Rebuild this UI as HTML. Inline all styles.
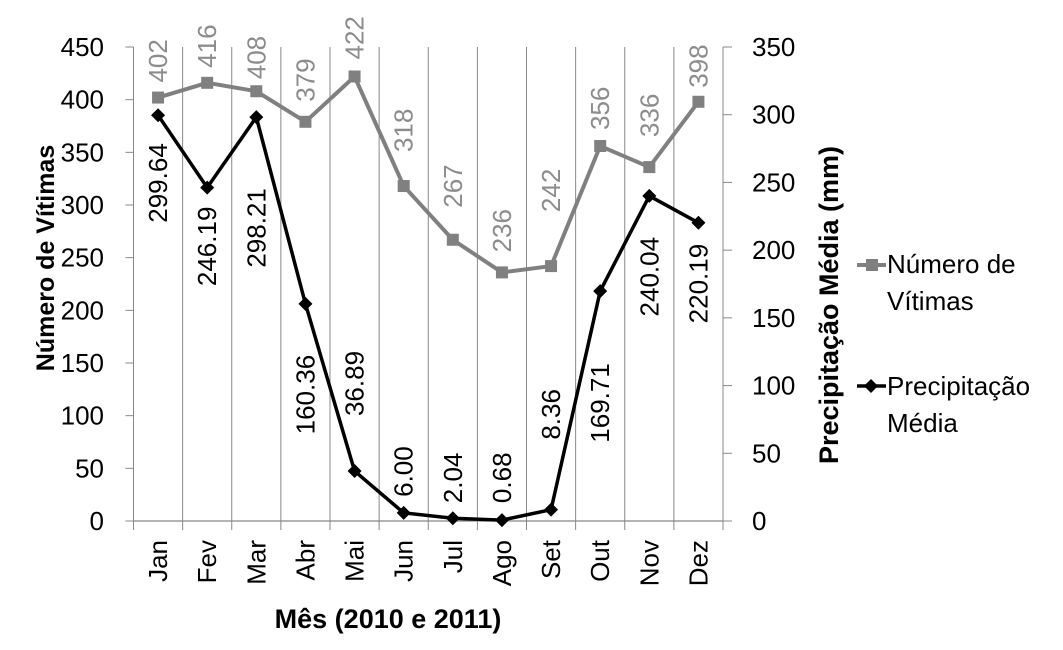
<!DOCTYPE html>
<html><head><meta charset="utf-8"><style>
html,body{margin:0;padding:0;background:#fff;}
svg{display:block;font-family:"Liberation Sans",sans-serif;}
</style></head><body>
<svg id="chart" width="1063" height="650" viewBox="0 0 1063 650"></svg>
<script>
const months=["Jan","Fev","Mar","Abr","Mai","Jun","Jul","Ago","Set","Out","Nov","Dez"];
const victims=[402,416,408,379,422,318,267,236,242,356,336,398];
const precip=[299.64,246.19,298.21,160.36,36.89,6.00,2.04,0.68,8.36,169.71,240.04,220.19];
const leftTicks=[0,50,100,150,200,250,300,350,400,450];
const rightTicks=[0,50,100,150,200,250,300,350];
// label placement (style): gap in px from marker; negative = below
const victimsLabelGap=[15,15,12,20,17,34,32,20,54,16,30,14];
const precipLabelGap=[-28,-19,-71,-51,55,16,15,17,70,-72,-41,-21];

const NS="http://www.w3.org/2000/svg";
const svg=document.getElementById('chart');
const L=133.5,R=723,T=47,B=521;
const band=(R-L)/months.length;
const xc=i=>L+band*(i+0.5);
const yl=v=>B-(v/450)*(B-T);
const yr=v=>B-(v/350)*(B-T);
const FS=26;
function mk(tag,a,parent){const e=document.createElementNS(NS,tag);for(const k in a)e.setAttribute(k,a[k]);(parent||svg).appendChild(e);return e;}

for(let i=0;i<=months.length;i++){
  const x=L+band*i;
  const g=mk('line',{x1:x,y1:T,x2:x,y2:B+9,stroke:'#888','stroke-width':1});
  
  
}
const xa=mk('line',{x1:L,y1:B,x2:R,y2:B,stroke:'#888','stroke-width':1.2});

leftTicks.forEach(v=>{
  const y=yl(v);
  const t=mk('line',{x1:L-8,y1:y,x2:L,y2:y,stroke:'#888'});
  
  const tx=mk('text',{x:104,y:y+9,'text-anchor':'end','font-size':FS,fill:'#000'});
  tx.textContent=v;
  
});
rightTicks.forEach(v=>{
  const y=yr(v);
  const t=mk('line',{x1:R,y1:y,x2:R+9,y2:y,stroke:'#888'});
  
  const tx=mk('text',{x:752,y:y+9,'text-anchor':'start','font-size':FS,fill:'#000'});
  tx.textContent=v;
  
});
months.forEach((m,i)=>{
  const x=xc(i);
  const tx=mk('text',{x:0,y:0,transform:`translate(${x+9},540) rotate(-90)`,'text-anchor':'end','font-size':FS,fill:'#000'});
  tx.textContent=m;
  
});
const vp=mk('polyline',{points:victims.map((v,i)=>xc(i)+','+yl(v)).join(' '),fill:'none',stroke:'#808080','stroke-width':4});

victims.forEach((v,i)=>{
  const r=mk('rect',{x:xc(i)-6,y:yl(v)-6,width:12,height:12,fill:'#808080'});
  
  const g=victimsLabelGap[i];
  const tx=mk('text',{x:0,y:0,transform:`translate(${xc(i)+9},${yl(v)-g}) rotate(-90)`,'text-anchor':'start','font-size':FS,fill:'#8c8c8c'});
  tx.textContent=v;
  
});
const pp=mk('polyline',{points:precip.map((v,i)=>xc(i)+','+yr(v)).join(' '),fill:'none',stroke:'#000','stroke-width':3.5});

precip.forEach((v,i)=>{
  const x=xc(i),y=yr(v);
  const d=mk('polygon',{points:`${x},${y-7} ${x+7},${y} ${x},${y+7} ${x-7},${y}`,fill:'#000'});
  
  const g=precipLabelGap[i];
  const above=g>0;
  const tx=mk('text',{x:0,y:0,transform:`translate(${x+9},${y-g}) rotate(-90)`,'text-anchor':above?'start':'end','font-size':FS,fill:'#000'});
  tx.textContent=v.toFixed(2);
  
});
let t=mk('text',{x:0,y:0,transform:'translate(54,258) rotate(-90)','text-anchor':'middle','font-size':25,'font-weight':'bold'});
t.textContent='Número de Vítimas';
t=mk('text',{x:0,y:0,transform:'translate(838,305) rotate(-90)','text-anchor':'middle','font-size':27,'font-weight':'bold'});
t.textContent='Precipitação Média (mm)';
t=mk('text',{x:388,y:628,'text-anchor':'middle','font-size':27,'font-weight':'bold'});
t.textContent='Mês (2010 e 2011)';
const lg=mk('g',{});

mk('line',{x1:857,y1:265,x2:886,y2:265,stroke:'#808080','stroke-width':4},lg);
mk('rect',{x:866,y:259,width:12,height:12,fill:'#808080'},lg);
let e=mk('text',{x:887,y:273,'font-size':FS},lg);e.textContent='Número de';

e=mk('text',{x:887,y:310,'font-size':FS},lg);e.textContent='Vítimas';

mk('line',{x1:857,y1:386,x2:886,y2:386,stroke:'#000','stroke-width':3.5},lg);
mk('polygon',{points:'871,379 878,386 871,393 864,386',fill:'#000'},lg);
e=mk('text',{x:887,y:395,'font-size':FS},lg);e.textContent='Precipitação';

e=mk('text',{x:887,y:432,'font-size':FS},lg);e.textContent='Média';

</script>
</body></html>
